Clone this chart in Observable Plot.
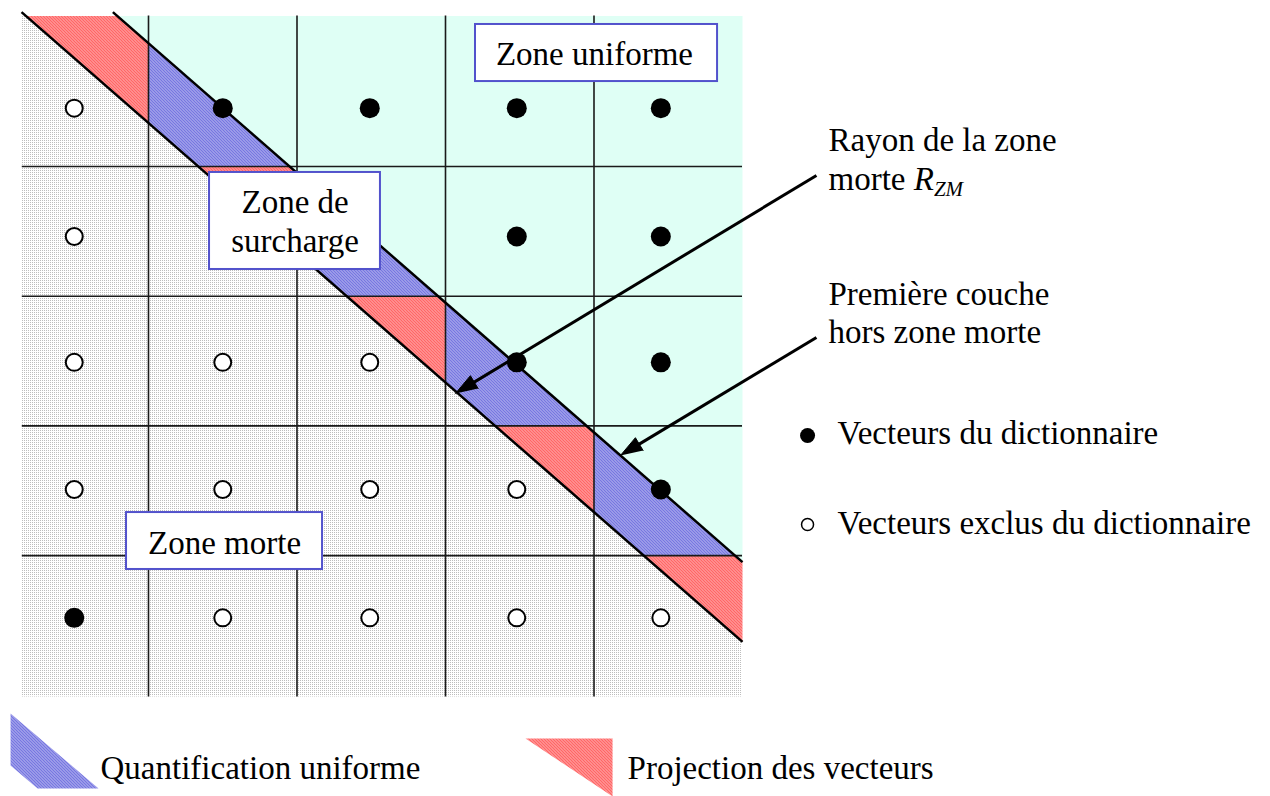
<!DOCTYPE html>
<html><head><meta charset="utf-8">
<script src="https://cdn.jsdelivr.net/npm/d3@7"></script>
<script src="https://cdn.jsdelivr.net/npm/@observablehq/plot@0.6"></script>
<style>body{margin:0;background:#fff}</style>
</head><body><div id="chart"></div>
<script>
// ---- data (grid units: columns/rows of the quantisation lattice) ----
const gridU = [1, 2, 3, 4];
const gridV = [1, 2, 3, 4];
const bgU = [0.15, 5.0];
const bgV = [-0.16, 5.09];
const colCenters = [0.5, 1.5, 2.49, 3.48, 4.45];
const rowCenters = [0.55, 1.54, 2.51, 3.49, 4.48];
// 1 = vecteur du dictionnaire, 0 = vecteur exclu (rows top -> bottom)
const dictionary = [
  [0, 1, 1, 1, 1],
  [0, 0, 1, 1, 1],
  [0, 0, 0, 1, 1],
  [0, 0, 0, 0, 1],
  [1, 0, 0, 0, 0]
];
const bandOffsets = [-0.95, -0.335]; // v - u : première couche, rayon zone morte
const diagStartV = -0.19;
const boxRects = [
  {u0: 3.202, u1: 4.832, v0: -0.095, v1: 0.345},
  {u0: 1.411, u1: 2.562, v0: 1.046, v1: 1.794},
  {u0: 0.852, u1: 2.172, v0: 3.668, v1: 4.107}
];
const boxTexts = [
  {text: "Zone uniforme", u: 4.003, v: 0.214},
  {text: "Zone de", u: 1.987, v: 1.362},
  {text: "surcharge", u: 1.987, v: 1.663},
  {text: "Zone morte", u: 1.512, v: 3.984}
];
const notes = [
  {text: "Rayon de la zone", u: 5.579, v: 0.884},
  {text: "morte R_ZM", u: 5.579, v: 1.185},
  {text: "Première couche", u: 5.579, v: 2.064},
  {text: "hors zone morte", u: 5.579, v: 2.357}
];
const arrows = [
  {u1: 5.498, v1: 1.069, u2: 3.067, v2: 2.750},
  {u1: 5.498, v1: 2.318, u2: 4.178, v2: 3.228}
];
const dotLegend = [
  {text: "Vecteurs du dictionnaire", filled: 1, u: 5.438, v: 3.074, tu: 5.640, tv: 3.136},
  {text: "Vecteurs exclus du dictionnaire", filled: 0, u: 5.438, v: 3.760, tu: 5.640, tv: 3.830}
];
const zoneLegendBlue = [[0.071, 5.217], [0.663, 5.796], [0.253, 5.796], [0.071, 5.619]];
const zoneLegendRed = [[3.539, 5.410], [4.125, 5.410], [4.125, 5.857]];
const zoneLegendText = [
  {text: "Quantification uniforme", u: 0.677, v: 5.726},
  {text: "Projection des vecteurs", u: 4.226, v: 5.726}
];

// ---- scales (shared with the plot) ----
const xDomain = [0, 5], xRange = [-0.5, 742];
const yDomain = [0, 5], yRange = [36.3, 684.8];
const sx = d3.scaleLinear(xDomain, xRange), sy = d3.scaleLinear(yDomain, yRange);

// ---- geometry helpers ----
function clip(poly, u0, u1, v0, v1) {
  const edges = [
    [p => p[0] >= u0, (a, b) => { const t = (u0 - a[0]) / (b[0] - a[0]); return [u0, a[1] + t * (b[1] - a[1])]; }],
    [p => p[0] <= u1, (a, b) => { const t = (u1 - a[0]) / (b[0] - a[0]); return [u1, a[1] + t * (b[1] - a[1])]; }],
    [p => p[1] >= v0, (a, b) => { const t = (v0 - a[1]) / (b[1] - a[1]); return [a[0] + t * (b[0] - a[0]), v0]; }],
    [p => p[1] <= v1, (a, b) => { const t = (v1 - a[1]) / (b[1] - a[1]); return [a[0] + t * (b[0] - a[0]), v1]; }]
  ];
  let out = poly;
  for (const [inside, inter] of edges) {
    const inp = out; out = [];
    for (let i = 0; i < inp.length; i++) {
      const cur = inp[i], prev = inp[(i + inp.length - 1) % inp.length];
      if (inside(cur)) { if (!inside(prev)) out.push(inter(prev, cur)); out.push(cur); }
      else if (inside(prev)) out.push(inter(prev, cur));
    }
    if (!out.length) break;
  }
  return out;
}
const [up, lo] = bandOffsets;
const band = [[-3, -3 + up], [8, 8 + up], [8, 8 + lo], [-3, -3 + lo]];
const colEdges = [bgU[0], ...gridU, bgU[1]];
const rowEdges = [bgV[0], ...gridV, bgV[1]];
const bandParts = [];
let pid = 0;
for (let i = 0; i < 5; i++) for (let j = 0; j < 5; j++) {
  const p = clip(band, colEdges[i], colEdges[i + 1], rowEdges[j], rowEdges[j + 1]);
  if (p.length >= 3) { pid++; p.forEach(q => bandParts.push({u: q[0], v: q[1], id: pid, filled: dictionary[j][i]})); }
}
const cyan = clip([[-3, -3 + up], [8, 8 + up], [8, -20], [-3, -20]], bgU[0], bgU[1], bgV[0], bgV[1]).map(q => ({u: q[0], v: q[1]}));
const diags = bandOffsets.map(c => ({u1: diagStartV - c, v1: diagStartV, u2: bgU[1], v2: bgU[1] + c}));
const dots = [];
dictionary.forEach((row, j) => row.forEach((f, i) => dots.push({u: colCenters[i], v: rowCenters[j], filled: f})));

// arrow shafts + filled heads (head built in screen space, expressed back in data units)
const headLen = 22, headHalf = 7.5;
const shafts = [], heads = [];
arrows.forEach((a, k) => {
  const x1 = sx(a.u1), y1 = sy(a.v1), x2 = sx(a.u2), y2 = sy(a.v2);
  const L = Math.hypot(x2 - x1, y2 - y1), ux = (x2 - x1) / L, uy = (y2 - y1) / L;
  const bx = x2 - ux * headLen, by = y2 - uy * headLen;
  shafts.push({u1: a.u1, v1: a.v1, u2: sx.invert(bx + ux * 2), v2: sy.invert(by + uy * 2)});
  [[x2, y2], [bx - uy * headHalf, by + ux * headHalf], [bx + uy * headHalf, by - ux * headHalf]]
    .forEach(([px, py]) => heads.push({u: sx.invert(px), v: sy.invert(py), id: k}));
});

const serif = "Liberation Serif, Times New Roman, serif";
const txt = {x: "u", y: "v", text: "text", fontSize: 33, fontFamily: serif, fill: "black", lineAnchor: "bottom"};

const svg = Plot.plot({
  width: 1270, height: 796,
  margin: 0,
  x: {domain: xDomain, range: xRange, axis: null},
  y: {domain: yDomain, range: yRange, axis: null},
  style: {background: "white", fontFamily: serif, overflow: "visible"},
  marks: [
    Plot.rect([{}], {x1: () => bgU[0], x2: () => bgU[1], y1: () => bgV[0], y2: () => bgV[1], fill: "url(#gray)"}),
    Plot.line(cyan, {x: "u", y: "v", fill: "url(#cyan)", stroke: "none"}),
    Plot.line(bandParts.filter(d => d.filled), {x: "u", y: "v", z: "id", fill: "url(#blue)", stroke: "none"}),
    Plot.line(bandParts.filter(d => !d.filled), {x: "u", y: "v", z: "id", fill: "url(#red)", stroke: "none"}),
    Plot.ruleX(gridU, {x: d => d, y1: () => bgV[0], y2: () => bgV[1], stroke: "#1a1a1a", strokeWidth: 1.6}),
    Plot.ruleY(gridV, {y: d => d, x1: () => bgU[0], x2: () => bgU[1], stroke: "#1a1a1a", strokeWidth: 1.6}),
    Plot.link(diags, {x1: "u1", y1: "v1", x2: "u2", y2: "v2", stroke: "black", strokeWidth: 2.5}),
    Plot.dot(dots.filter(d => d.filled), {x: "u", y: "v", r: 10, fill: "black", stroke: "none"}),
    Plot.dot(dots.filter(d => !d.filled), {x: "u", y: "v", r: 8.5, fill: "white", stroke: "black", strokeWidth: 2}),
    Plot.rect(boxRects, {x1: "u0", x2: "u1", y1: "v0", y2: "v1", fill: "white", stroke: "#5252cc", strokeWidth: 2}),
    Plot.text(boxTexts, {...txt, textAnchor: "middle"}),
    Plot.link(shafts, {x1: "u1", y1: "v1", x2: "u2", y2: "v2", stroke: "black", strokeWidth: 3}),
    Plot.line(heads, {x: "u", y: "v", z: "id", fill: "black", stroke: "black", strokeWidth: 1, strokeLinejoin: "miter"}),
    Plot.text(notes, {...txt, textAnchor: "start"}),
    Plot.dot(dotLegend.filter(d => d.filled), {x: "u", y: "v", r: 7.5, fill: "black", stroke: "none"}),
    Plot.dot(dotLegend.filter(d => !d.filled), {x: "u", y: "v", r: 6, fill: "white", stroke: "black", strokeWidth: 1.5}),
    Plot.text(dotLegend, {...txt, x: "tu", y: "tv", textAnchor: "start"}),
    Plot.line(zoneLegendBlue, {x: d => d[0], y: d => d[1], fill: "url(#blue)", stroke: "none"}),
    Plot.line(zoneLegendRed, {x: d => d[0], y: d => d[1], fill: "url(#red)", stroke: "none"}),
    Plot.text(zoneLegendText, {...txt, textAnchor: "start"})
  ]
});

const s = d3.select(svg);
const defs = s.insert("defs", ":first-child");
function dotPattern(id, color) {
  const p = defs.append("pattern").attr("id", id).attr("width", 2).attr("height", 2).attr("patternUnits", "userSpaceOnUse");
  p.append("rect").attr("width", 2).attr("height", 2).attr("fill", "#fff");
  p.append("rect").attr("width", 1).attr("height", 1).attr("fill", color);
}
function hatch(id, color) {
  const p = defs.append("pattern").attr("id", id).attr("width", 3).attr("height", 3).attr("patternUnits", "userSpaceOnUse");
  p.append("rect").attr("width", 3).attr("height", 3).attr("fill", "#fff");
  p.append("path").attr("d", "M-1,-1L4,4M-1,2L1,4M2,-1L4,1").attr("stroke", color).attr("stroke-width", 1.2);
}
dotPattern("gray", "#bdbdbd");
dotPattern("cyan", "#80ffd8");
hatch("blue", "#2a2ad0");
hatch("red", "#ff1010");

s.selectAll("text").filter(function () { return this.textContent === "morte R_ZM"; }).each(function () {
  const t = d3.select(this);
  t.text(null);
  t.append("tspan").text("morte ");
  t.append("tspan").attr("font-style", "italic").text("R");
  t.append("tspan").attr("font-style", "italic").attr("font-size", 21).attr("dy", 6).text("ZM");
});

document.getElementById("chart").appendChild(svg);
</script>
</body></html>
